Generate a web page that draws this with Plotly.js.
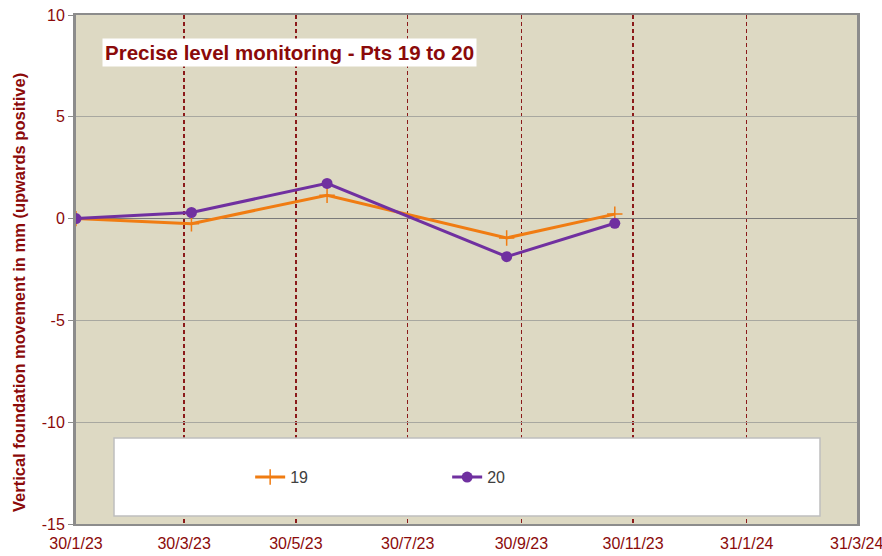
<!DOCTYPE html>
<html>
<head>
<meta charset="utf-8">
<script src="https://cdn.plot.ly/plotly-3.0.1.min.js"></script>
<style>html,body{margin:0;padding:0;background:#fff;}#chart{width:882px;height:556px;}</style>
</head>
<body>
<div id="chart"></div>
<script>
const dates = ["2023-01-30", "2023-04-03", "2023-06-16", "2023-09-22", "2023-11-20"];
const pt19 = [0, -0.25, 1.15, -0.95, 0.22];
const pt20 = [0, 0.3, 1.73, -1.87, -0.23];
const xTickVals = ["2023-01-30", "2023-03-30", "2023-05-30", "2023-07-30", "2023-09-30", "2023-11-30", "2024-01-31", "2024-03-31"];
const xTickText = ["30/1/23", "30/3/23", "30/5/23", "30/7/23", "30/9/23", "30/11/23", "31/1/24", "31/3/24"];
const yTickVals = [-15, -10, -5, 0, 5, 10];
const yTickText = ["-15", "-10", "-5", "0", "5", "10"];

const dark = "#8B0A0A";
const font = "Liberation Sans, Arial, sans-serif";

const traces = [
  {x: dates, y: pt19, name: "19", type: "scatter", mode: "lines+markers",
   line: {color: "#F07C12", width: 3},
   marker: {symbol: "cross-thin", size: 11, color: "#F07C12", line: {color: "#F07C12", width: 1.5}}},
  {x: dates, y: pt20, name: "20", type: "scatter", mode: "lines+markers",
   line: {color: "#7030A0", width: 3},
   marker: {symbol: "circle", size: 11, color: "#7030A0"}}
];

const layout = {
  width: 882, height: 556,
  margin: {l: 76, r: 25, t: 15, b: 32},
  paper_bgcolor: "#ffffff",
  plot_bgcolor: "#DDD9C3",
  font: {family: font, color: dark, size: 15},
  showlegend: true,
  legend: {orientation: "h", x: 0.223, y: 0.092, xanchor: "left", yanchor: "middle",
           bgcolor: "rgba(0,0,0,0)", font: {family: font, size: 16, color: "#404040"},
           entrywidth: 152, entrywidthmode: "pixels"},
  xaxis: {
    type: "date",
    range: ["2023-01-30", "2024-03-31 04:00"],
    tickvals: xTickVals, ticktext: xTickText,
    showgrid: true, gridcolor: "#8B1A1A", griddash: "4px,3px", gridwidth: 1.5,
    showline: true, linecolor: "#8C8C8C", linewidth: 2, mirror: true,
    ticks: "", zeroline: false, ticklabelstandoff: 4, ticklabeloverflow: "allow",
    tickfont: {family: font, size: 16, color: dark}
  },
  yaxis: {
    range: [-15, 10],
    tickvals: yTickVals, ticktext: yTickText,
    showgrid: true, gridcolor: "#A8A8A0", gridwidth: 1,
    zeroline: true, zerolinecolor: "#7A7A7A", zerolinewidth: 1.5,
    showline: true, linecolor: "#8C8C8C", linewidth: 3, mirror: true,
    ticks: "outside", ticklen: 5, tickcolor: "#8C8C8C",
    tickfont: {family: font, size: 16, color: dark}
  },
  shapes: [
    {type: "rect", xref: "paper", yref: "paper",
     x0: (114 - 76) / 781, x1: (820 - 76) / 781, y0: (524 - 516) / 509, y1: (524 - 438) / 509,
     fillcolor: "#ffffff", line: {color: "#BFBFBF", width: 1.5}, layer: "above"}
  ],
  annotations: [
    {xref: "paper", yref: "paper", x: (102 - 76) / 781, y: (524 - 52) / 509,
     xanchor: "left", yanchor: "middle", showarrow: false,
     text: "<b>Precise level monitoring - Pts 19 to 20</b>",
     font: {family: font, size: 20.5, color: dark},
     bgcolor: "#ffffff", borderpad: 2},
    {xref: "paper", yref: "paper", x: -(76 - 19) / 781, y: (524 - 293) / 509,
     xanchor: "center", yanchor: "middle", showarrow: false, textangle: -90,
     text: "<b>Vertical foundation movement in mm (upwards positive)</b>",
     font: {family: font, size: 16.5, color: dark}}
  ]
};

Plotly.newPlot("chart", traces, layout, {displayModeBar: false, staticPlot: true});
</script>
</body>
</html>
